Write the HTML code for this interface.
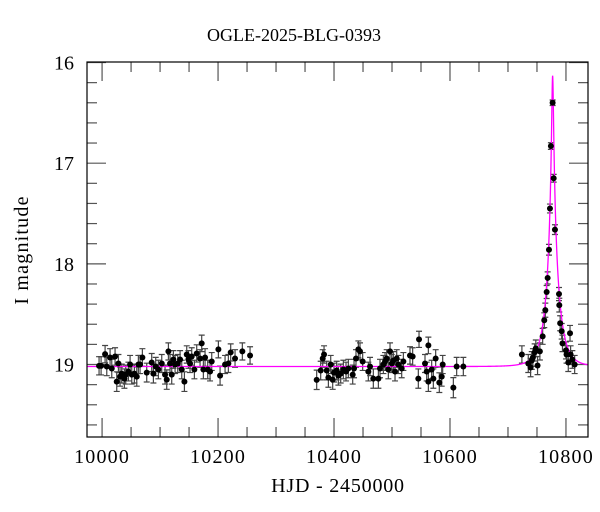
<!DOCTYPE html>
<html><head><meta charset="utf-8"><style>
html,body{margin:0;padding:0;background:#fff;}
svg{display:block;font-family:"Liberation Serif",serif;}
</style></head><body>
<svg id="chart" width="600" height="512" viewBox="0 0 600 512">
<text x="294" y="41" font-size="18" text-anchor="middle">OGLE-2025-BLG-0393</text>
<text x="338" y="492" font-size="20" letter-spacing="0.8" text-anchor="middle">HJD - 2450000</text>
<text transform="translate(28,250) rotate(-90)" font-size="20" letter-spacing="1.2" text-anchor="middle">I magnitude</text>
<g id="plot"></g>
</svg>
<script>
const xTicks = [10000, 10200, 10400, 10600, 10800];
const yTicks = [16, 17, 18, 19];
const hjd = [9994.8,9998.3,10005.2,10008.1,10013.8,10016.7,10022.4,10025.3,10028.2,10031.0,10033.9,10038.5,10040.8,10045.4,10048.3,10051.2,10055.7,10059.8,10062.6,10065.5,10069.5,10077.0,10085.6,10088.5,10092.5,10097.1,10102.9,10108.6,10111.5,10114.4,10117.2,10120.1,10123.0,10125.9,10130.5,10134.5,10137.4,10142.0,10146.0,10148.9,10151.7,10154.6,10159.2,10163.2,10169.0,10171.8,10174.7,10177.6,10182.2,10186.2,10189.1,10200.6,10203.5,10212.1,10217.8,10221.8,10229.3,10241.9,10255.2,
10370.1,10377.0,10380.5,10382.8,10387.4,10390.3,10394.3,10397.7,10400.0,10404.6,10407.5,10411.5,10416.1,10420.7,10424.7,10432.2,10434.5,10437.9,10442.0,10444.8,10449.4,10459.2,10462.1,10467.8,10476.5,10479.3,10485.1,10488.0,10490.8,10493.7,10496.6,10499.5,10502.3,10505.2,10508.1,10511.0,10516.7,10519.6,10531.0,10535.6,10545.4,10546.6,10556.9,10559.8,10562.7,10562.7,10568.4,10571.3,10575.3,10581.6,10585.7,10587.4,10605.8,10611.5,10623.0,
10777.0,10774.0,10778.8,10772.4,10781.0,10770.7,10768.4,10766.7,10788.0,10788.5,10764.4,10762.6,10790.0,10759.8,10792.6,10794.0,10755.0,10748.0,10746.0,10724.0,10735.0,10739.0,10751.0,10800.0,10807.0,10801.0,10808.0,10804.0,10815.0,10811.0,10741.0,10743.0];
const mag = [19.013,19.013,18.897,19.02,18.93,19.04,18.92,19.17,18.99,19.12,19.09,19.14,19.10,19.07,19.00,19.10,19.09,19.12,19.00,19.00,18.93,19.08,18.98,19.09,19.02,19.05,18.99,19.10,19.15,18.87,18.99,19.10,18.95,19.00,18.99,18.95,19.05,19.17,18.90,18.95,18.99,18.92,19.05,18.89,18.94,18.79,19.05,18.93,19.05,19.07,18.97,18.85,19.11,19.00,18.99,18.88,18.94,18.87,18.91,
19.152,19.06,18.94,18.90,19.06,19.13,19.00,19.15,19.08,19.06,19.11,19.09,19.05,19.07,19.04,19.10,19.04,18.94,18.85,18.87,18.97,19.07,19.02,19.14,19.14,19.04,19.00,18.97,18.94,19.05,18.87,18.99,18.96,19.07,18.94,19.00,19.04,18.97,18.91,18.92,19.14,18.75,18.99,19.07,18.81,19.17,19.05,19.14,18.94,19.18,19.12,19.00,19.23,19.02,19.02,
16.40,16.83,17.15,17.45,17.66,17.86,18.14,18.28,18.30,18.41,18.46,18.56,18.59,18.72,18.67,18.79,18.87,18.84,18.88,18.90,18.99,19.03,19.01,18.86,18.69,18.90,18.90,18.98,19.00,18.95,18.96,18.93];
const modelBase = 19.02, modelT0 = 10777, modelU0 = 0.07, modelTE = 20;

const L=87,R=588,T=62,B=437, X0=9974, X1=10838, Y0=15.995, Y1=19.72;
const sx=v=>L+(v-X0)/(X1-X0)*(R-L);
const sy=v=>T+(v-Y0)/(Y1-Y0)*(B-T);
const NS="http://www.w3.org/2000/svg";
const g=document.getElementById('plot');
function mk(tag,attrs,name,parent){const e=document.createElementNS(NS,tag);for(const k in attrs)e.setAttribute(k,attrs[k]);


(parent||g).appendChild(e);return e;}
for(let v=10000;v<=10800;v+=50){const x=sx(v),len=(v%200===0)?19:10;
mk('line',{x1:x,x2:x,y1:B,y2:B-len,stroke:'#555','stroke-width':1.2},'x-tick');
mk('line',{x1:x,x2:x,y1:T,y2:T+len,stroke:'#555','stroke-width':1.2},'x-tick-top');}
for(let i=0;i<=18;i++){const v=16+i*0.2;if(v>Y1)break;const y=sy(v),maj=Math.abs(v-Math.round(v))<1e-6,len=maj?19:10;
mk('line',{x1:L,x2:L+len,y1:y,y2:y,stroke:'#555','stroke-width':1.2},'y-tick');
mk('line',{x1:R,x2:R-len,y1:y,y2:y,stroke:'#555','stroke-width':1.2},'y-tick-right');}
xTicks.forEach(v=>{const t=mk('text',{x:sx(v),y:463,'font-size':20,'letter-spacing':1.2,'text-anchor':'middle'},'x-tick-label');t.textContent=v;});
yTicks.forEach(v=>{const t=mk('text',{x:74,y:sy(v)+7,'font-size':20,'text-anchor':'end'},'y-tick-label');t.textContent=v;});
let d='';for(let t=X0;t<=X1;t+=0.25){const u=Math.sqrt(modelU0*modelU0+Math.pow((t-modelT0)/modelTE,2));
const A=(u*u+2)/(u*Math.sqrt(u*u+4));const m=modelBase-2.5*Math.log10(A);d+=(d?'L':'M')+sx(t).toFixed(2)+','+sy(m).toFixed(2);}
for(let i=0;i<hjd.length;i++){const x=sx(hjd[i]),m=mag[i],e=0.09*Math.pow(10,0.2*(m-19));
const y1=sy(m-e),y2=sy(m+e);
mk('path',{d:`M${x},${y1}V${y2}M${x-3},${y1}H${x+3}M${x-3},${y2}H${x+3}`,stroke:'#444','stroke-width':1.2,fill:'none'},'error-bar');}
mk('path',{d:d,stroke:'#ff00ff','stroke-width':1.3,fill:'none'},'model-curve');
for(let i=0;i<hjd.length;i++){mk('circle',{cx:sx(hjd[i]),cy:sy(mag[i]),r:3,fill:'#000'},'data-point');}
mk('rect',{x:L,y:T,width:R-L,height:B-T,fill:'none',stroke:'#000','stroke-width':1.2},'plot-frame');
</script>
</body></html>
